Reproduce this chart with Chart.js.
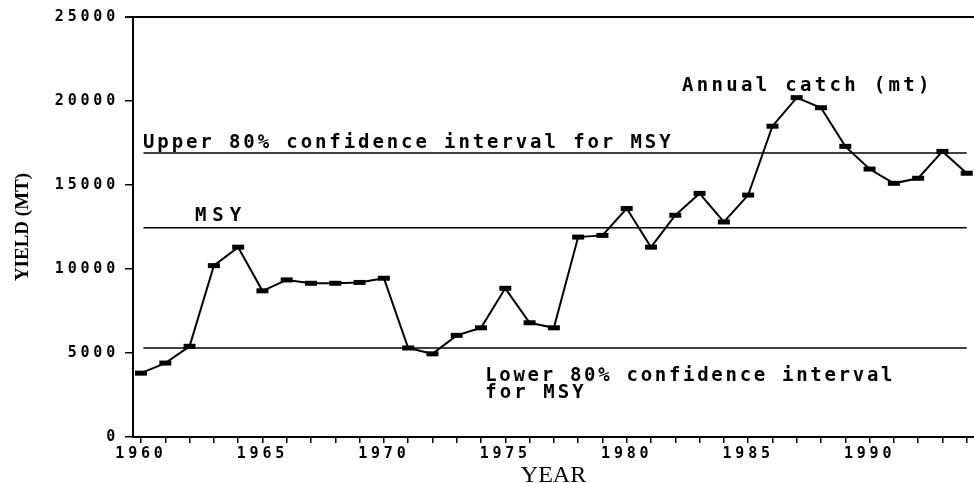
<!DOCTYPE html>
<html>
<head>
<meta charset="utf-8">
<title>Annual catch and MSY</title>
<style>
  html, body { margin: 0; padding: 0; background: #fff; }
  #wrap { width: 974px; height: 483px; }
</style>
<script src="https://cdn.jsdelivr.net/npm/chart.js@4.4.1/dist/chart.umd.min.js"></script>
</head>
<body>
<div id="wrap"><canvas id="chart" width="974" height="483"></canvas></div>
<script>
// Annual catch in metric tons, one value per year
const years = [1960, 1961, 1962, 1963, 1964, 1965, 1966, 1967, 1968, 1969,
               1970, 1971, 1972, 1973, 1974, 1975, 1976, 1977, 1978, 1979,
               1980, 1981, 1982, 1983, 1984, 1985, 1986, 1987, 1988, 1989,
               1990, 1991, 1992, 1993, 1994];
const annualCatch = [3800, 4400, 5400, 10200, 11300, 8700, 9350, 9150, 9150, 9200,
                     9450, 5300, 4950, 6050, 6500, 8850, 6800, 6500, 11900, 12000,
                     13600, 11300, 13200, 14500, 12800, 14400, 18500, 20200, 19600, 17300,
                     15950, 15100, 15400, 17000, 15700];

// Maximum sustainable yield and its 80% confidence bounds
const msy = 12450;
const upper80 = 16900;
const lower80 = 5300;
const refSpan = [1960.1, 1994];

// Axis ticks
const yTickValues = [0, 5000, 10000, 15000, 20000, 25000];
const xLabelYears = [1960, 1965, 1970, 1975, 1980, 1985, 1990];

const refLine = (level) => ({
  data: refSpan.map(x => ({ x: x, y: level })),
  borderColor: '#000',
  borderWidth: 1.5,
  pointRadius: 0,
  fill: false
});

// Text written inside the plot, anchored in data units
const notes = [
  { text: 'Upper 80% confidence interval for MSY', x: 1960.08, y: 17200, ls: 2.9 },
  { text: 'MSY', x: 1962.22, y: 12850, ls: 6.0 },
  { text: 'Annual catch (mt)', x: 1982.28, y: 20600, ls: 3.3 },
  { text: 'Lower 80% confidence interval', x: 1974.17, y: 3330, ls: 2.7 },
  { text: 'for MSY', x: 1974.17, y: 2320, ls: 3.1 }
];

const typewriter = {
  id: 'typewriter',
  beforeDraw(chart) {
    const ctx = chart.ctx;
    ctx.save();
    ctx.fillStyle = '#fff';
    ctx.fillRect(0, 0, chart.width, chart.height);
    ctx.restore();
    ctx.letterSpacing = '0px';
  },
  afterDatasetsDraw(chart) {
    // widen the tick digits, drawn after the datasets
    chart.ctx.letterSpacing = '3.8px';
  },
  afterDraw(chart) {
    const ctx = chart.ctx;
    const a = chart.chartArea;
    const xs = chart.scales.x, ys = chart.scales.y;
    ctx.save();
    ctx.letterSpacing = '0px';
    // top frame line
    ctx.strokeStyle = '#000';
    ctx.lineWidth = 2;
    ctx.beginPath();
    ctx.moveTo(a.left - 8, a.top);
    ctx.lineTo(a.right, a.top);
    ctx.stroke();
    ctx.fillStyle = '#000';
    ctx.font = 'bold 19px "DejaVu Sans Mono"';
    ctx.textBaseline = 'alphabetic';
    ctx.textAlign = 'left';
    notes.forEach(n => {
      ctx.letterSpacing = n.ls + 'px';
      ctx.fillText(n.text, xs.getPixelForValue(n.x), ys.getPixelForValue(n.y));
    });
    ctx.restore();
    ctx.letterSpacing = '0px';
  }
};

new Chart(document.getElementById('chart'), {
  type: 'line',
  data: {
    datasets: [
      {
        label: 'Annual catch (mt)',
        data: years.map((yr, i) => ({ x: yr, y: annualCatch[i] })),
        borderColor: '#000',
        borderWidth: 2,
        tension: 0,
        pointStyle: 'line',
        pointRadius: 6,
        pointBorderWidth: 5,
        pointBorderColor: '#000',
        pointBackgroundColor: '#000',
        fill: false
      },
      refLine(upper80),
      refLine(msy),
      refLine(lower80)
    ]
  },
  plugins: [typewriter],
  options: {
    responsive: false,
    devicePixelRatio: 1,
    animation: false,
    layout: { autoPadding: false, padding: { top: 17, right: 0, bottom: 0, left: 0 } },
    plugins: { legend: { display: false }, tooltip: { enabled: false } },
    scales: {
      x: {
        type: 'linear',
        min: 1959.67,
        max: 1994.3,
        afterFit(s) { s.height = 46; s.paddingLeft = 0; s.paddingRight = 0; },
        afterBuildTicks(s) { s.ticks = years.map(v => ({ value: v })); },
        grid: { drawOnChartArea: false, drawTicks: true, tickLength: 6, color: '#000', lineWidth: 1.5 },
        border: { display: true, color: '#000', width: 2 },
        ticks: {
          z: 1,
          autoSkip: false,
          maxRotation: 0,
          padding: 2,
          color: '#000',
          font: { family: 'DejaVu Sans Mono', size: 15, weight: 'bold' },
          callback: v => xLabelYears.includes(v) ? String(v) : ''
        },
        title: {
          display: true,
          text: 'YEAR',
          color: '#000',
          font: { family: 'Liberation Serif', size: 24, lineHeight: 1 },
          padding: { top: 0, bottom: -5 }
        }
      },
      y: {
        min: 0,
        max: 25000,
        afterFit(s) { s.width = 133; s.paddingTop = 0; s.paddingBottom = 0; },
        afterBuildTicks(s) { s.ticks = yTickValues.map(v => ({ value: v })); },
        grid: { drawOnChartArea: false, drawTicks: true, tickLength: 8, color: '#000', lineWidth: 1.5 },
        border: { display: true, color: '#000', width: 2 },
        ticks: {
          z: 1,
          padding: 6,
          color: '#000',
          font: { family: 'DejaVu Sans Mono', size: 15, weight: 'bold' },
          callback: v => String(v)
        },
        title: {
          display: true,
          text: 'YIELD (MT)',
          color: '#000',
          font: { family: 'Liberation Serif', size: 19, weight: 'bold', lineHeight: 1 },
          padding: { top: 14, bottom: 0 }
        }
      }
    }
  }
});
</script>
</body>
</html>
